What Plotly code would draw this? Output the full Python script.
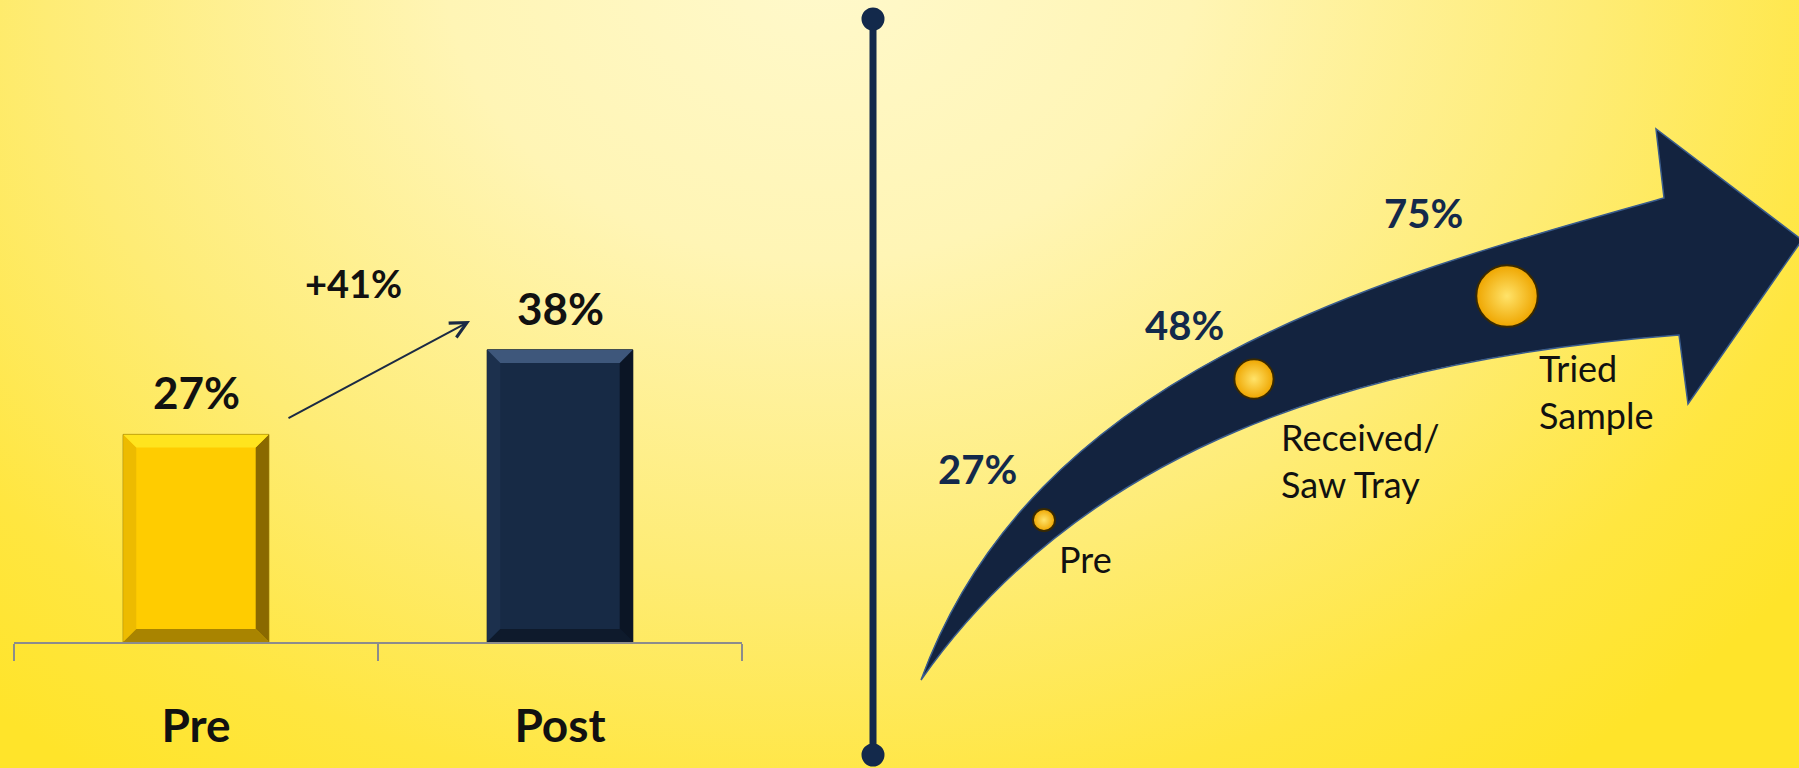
import base64
import plotly.graph_objects as go

# ---------------- data ----------------
categories = ["Pre", "Post"]
values = [27, 38]
bar_colors = ["#FFCC00", "#172A45"]

stages = ["Pre", "Received/<br>Saw Tray", "Tried<br>Sample"]
stage_values = [27, 48, 75]

# ---------------- layout constants (pixel positions on a 1799x768 page) ----------------
W, H = 1799, 768
STAGE_XY = [(1044, 520), (1254, 379), (1507, 296)]          # bubble centres on the arrow
PCT_XY = [(977, 469), (1184, 325), (1423, 213)]              # percentage label centres
LABEL_XY = [(1057, 559), (1279, 460), (1537, 391)]           # stage label left/middle
NAVY = "#13294B"
FONT = "Lato"

# curved arrow outline: tail -> upper edge -> head -> lower edge -> tail
arrow_path = (
    "M921,680 "
    "C1034,370 1381,277 1664,198 "
    "L1656,129 L1802,240 L1688,404 L1679,335 "
    "C1350,360 1082,451 921,680 Z"
)

# background gradient as inline SVG
svg = f"""<svg xmlns='http://www.w3.org/2000/svg' width='{W}' height='{H}'>
<defs><radialGradient id='g' cx='0' cy='0' r='1000' gradientUnits='userSpaceOnUse'
 gradientTransform='translate(820,-40) scale(1.25,1)'>
<stop offset='0' stop-color='#FFF9CC'/><stop offset='0.3' stop-color='#FFF5B5'/>
<stop offset='0.62' stop-color='#FEEC75'/><stop offset='0.85' stop-color='#FFE640'/>
<stop offset='1' stop-color='#FFE42A'/></radialGradient></defs>
<rect width='{W}' height='{H}' fill='url(#g)'/></svg>"""
bg_uri = "data:image/svg+xml;base64," + base64.b64encode(svg.encode()).decode()

fig = go.Figure()

# ---------------- left: bar chart ----------------
fig.add_trace(go.Bar(
    x=categories, y=values,
    marker=dict(color=bar_colors, line=dict(color=["#8C7000", "#0A1424"], width=1)),
    width=0.4, xaxis="x", yaxis="y", hoverinfo="skip", showlegend=False,
))

shapes = []
bevel_cols = [
    dict(top="#FFE41E", bottom="#A98400", left="#EDBB00", right="#8A6900"),
    dict(top="#3E577B", bottom="#0E1A2C", left="#1C304D", right="#0B1525"),
]
bw, bh, half = 0.036, 1.7, 0.2
for i, v in enumerate(values):
    c = bevel_cols[i]
    xl, xr = i - half, i + half
    polys = {
        "left": [(xl, 0), (xl, v), (xl + bw, v - bh), (xl + bw, bh)],
        "right": [(xr, 0), (xr, v), (xr - bw, v - bh), (xr - bw, bh)],
        "bottom": [(xl, 0), (xr, 0), (xr - bw, bh), (xl + bw, bh)],
        "top": [(xl, v), (xr, v), (xr - bw, v - bh), (xl + bw, v - bh)],
    }
    for k in ["left", "right", "bottom", "top"]:
        pts = polys[k]
        path = "M" + " L".join(f"{px},{py}" for px, py in pts) + " Z"
        shapes.append(dict(type="path", path=path, xref="x", yref="y",
                           fillcolor=c[k], line=dict(width=0), layer="above"))

annotations = []
for cat, v in zip(categories, values):
    annotations.append(dict(x=cat, y=v, xref="x", yref="y", text=f"{v}%",
                            showarrow=False, yanchor="bottom", yshift=14,
                            font=dict(family=FONT, size=44, color="#111111", weight="bold")))

change = round((values[1] - values[0]) / values[0] * 100)
annotations.append(dict(x=353, y=283, xref="x2", yref="y2", text=f"+{change}%",
                        showarrow=False,
                        font=dict(family=FONT, size=38, color="#111111", weight="bold")))
annotations.append(dict(x=470, y=321, xref="x2", yref="y2", ax=287, ay=419,
                        axref="x2", ayref="y2", text="", showarrow=True,
                        arrowhead=5, arrowsize=1.6, arrowwidth=2, arrowcolor="#1B2A44"))

# ---------------- divider ----------------
shapes.append(dict(type="line", x0=873, x1=873, y0=18, y1=755, xref="x2", yref="y2",
                   line=dict(color=NAVY, width=7), layer="above"))
for cy in (19, 755):
    shapes.append(dict(type="circle", x0=873 - 11.5, x1=873 + 11.5, y0=cy - 11.5, y1=cy + 11.5,
                       xref="x2", yref="y2", fillcolor=NAVY, line=dict(width=0), layer="above"))

# ---------------- right: curved arrow + stage bubbles ----------------
shapes.append(dict(type="path", path=arrow_path, xref="x2", yref="y2",
                   fillcolor="#13233F", line=dict(color="#3A5C8C", width=1.5), layer="below"))

fig.add_trace(go.Scatter(
    x=[p[0] for p in STAGE_XY], y=[p[1] for p in STAGE_XY],
    mode="markers", xaxis="x2", yaxis="y2", hoverinfo="skip", showlegend=False,
    marker=dict(size=stage_values, sizemode="diameter", sizeref=1.22, opacity=1,
                color="#EFA600", gradient=dict(type="radial", color="#FFE36A"),
                line=dict(color="#3A2A00", width=2)),
))

for v, (px, py) in zip(stage_values, PCT_XY):
    annotations.append(dict(x=px, y=py, xref="x2", yref="y2", text=f"{v}%", showarrow=False,
                            font=dict(family=FONT, size=40, color=NAVY, weight="bold")))
for s, (px, py) in zip(stages, LABEL_XY):
    annotations.append(dict(x=px, y=py, xref="x2", yref="y2", text=s, showarrow=False,
                            xanchor="left", yanchor="middle", align="left",
                            font=dict(family=FONT, size=36, color="#111111")))

fig.update_layout(
    width=W, height=H,
    margin=dict(l=0, r=0, t=0, b=0),
    paper_bgcolor="#FFEE80", plot_bgcolor="rgba(0,0,0,0)",
    bargap=0.6,
    images=[dict(source=bg_uri, xref="paper", yref="paper", x=0, y=1, sizex=1, sizey=1,
                 xanchor="left", yanchor="top", sizing="stretch", layer="below")],
    xaxis=dict(domain=[14 / W, 742 / W], type="category", showgrid=False, zeroline=False,
               showline=True, linecolor="#8C8C8C", linewidth=1.5,
               ticks="outside", tickson="boundaries", ticklen=17, tickcolor="#8C8C8C", tickwidth=1.5,
               tickfont=dict(family=FONT, size=46, color="#111111", weight="bold"),
               ticklabelstandoff=43, fixedrange=True),
    yaxis=dict(domain=[1 - 642 / H, 1], range=[0, 83.5], visible=False, fixedrange=True),
    xaxis2=dict(domain=[0, 1], range=[0, W], visible=False, anchor="y2", fixedrange=True),
    yaxis2=dict(domain=[0, 1], range=[H, 0], visible=False, anchor="x2", fixedrange=True),
    shapes=shapes,
    annotations=annotations,
)

fig.write_html("out.html", config={"displayModeBar": False},
               post_script="document.body.style.margin='0';document.body.style.overflow='hidden';")
